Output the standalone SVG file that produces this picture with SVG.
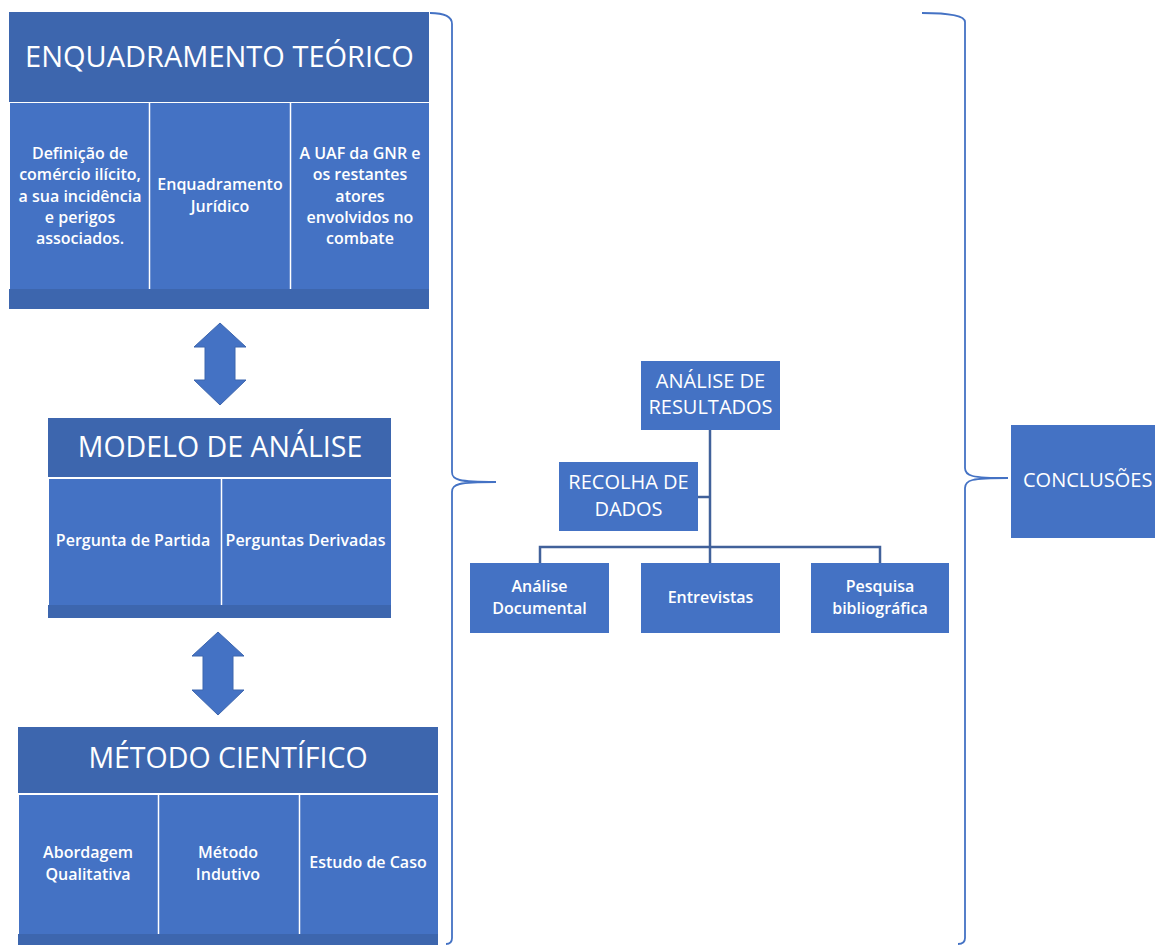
<svg xmlns="http://www.w3.org/2000/svg" width="1155" height="945" viewBox="0 0 1155 945">
<style>
.hdr{fill:#3D66AE}
.cell{fill:#4472C4}
.sep{stroke:#FFFFFF;stroke-width:1.5}
.ht{font-family:"Open Sans","Liberation Sans",sans-serif;fill:#FFFFFF;text-anchor:middle;font-weight:400}
.ct{font-family:"Open Sans","Liberation Sans",sans-serif;fill:#FFFFFF;text-anchor:middle;font-weight:600;font-size:16px}
.mt{font-family:"Open Sans","Liberation Sans",sans-serif;fill:#FFFFFF;text-anchor:middle;font-weight:400;font-size:20px}
.st{font-family:"Open Sans","Liberation Sans",sans-serif;fill:#FFFFFF;text-anchor:start;font-weight:400;font-size:20px}
.brace{fill:none;stroke:#4472C4;stroke-width:1.8}
.conn{fill:none;stroke:#41619A;stroke-width:2.5}
.arrow{fill:#4472C4;stroke:#3D66AE;stroke-width:1}
</style>
<rect width="1155" height="945" fill="#FFFFFF"/>

<g id="enquadramento">
<rect class="hdr" x="9" y="12" width="420" height="90"/>
<rect class="cell" x="10" y="103" width="419" height="186"/>
<line class="sep" x1="149.5" y1="103" x2="149.5" y2="289"/>
<line class="sep" x1="290.5" y1="103" x2="290.5" y2="289"/>
<rect class="hdr" x="9" y="289" width="420" height="20"/>
<text class="ht" x="219.5" y="66.5" font-size="29">ENQUADRAMENTO TEÓRICO</text>
<text class="ct" x="80" y="159">Definição de</text>
<text class="ct" x="80" y="180">comércio ilícito,</text>
<text class="ct" x="80" y="201.5">a sua incidência</text>
<text class="ct" x="80" y="223">e perigos</text>
<text class="ct" x="80" y="244">associados.</text>
<text class="ct" x="220" y="190">Enquadramento</text>
<text class="ct" x="220" y="212">Jurídico</text>
<text class="ct" x="360" y="159">A UAF da GNR e</text>
<text class="ct" x="360" y="180">os restantes</text>
<text class="ct" x="360" y="201.5">atores</text>
<text class="ct" x="360" y="223">envolvidos no</text>
<text class="ct" x="360" y="244">combate</text>
</g>

<g id="arrow1">
<path class="arrow" d="M220 323 L246 347 L235 347 L235 380 L246 380 L220 405 L194 380 L205 380 L205 347 L194 347 Z"/>
</g>

<g id="modelo">
<rect class="hdr" x="48" y="418" width="343" height="59"/>
<rect class="cell" x="49" y="479" width="342" height="126"/>
<line class="sep" x1="221.5" y1="479" x2="221.5" y2="605"/>
<rect class="hdr" x="48" y="605" width="343" height="13"/>
<text class="ht" x="220" y="457" font-size="28.5">MODELO DE ANÁLISE</text>
<text class="ct" x="133" y="545.5">Pergunta de Partida</text>
<text class="ct" x="305.5" y="545.5">Perguntas Derivadas</text>
</g>

<g id="arrow2">
<path class="arrow" d="M218 632 L244 656 L233 656 L233 690 L244 690 L218 715 L192 690 L203 690 L203 656 L192 656 Z"/>
</g>

<g id="metodo">
<rect class="hdr" x="18" y="727" width="420" height="66"/>
<rect class="cell" x="19" y="795" width="419" height="139"/>
<line class="sep" x1="158.5" y1="795" x2="158.5" y2="934"/>
<line class="sep" x1="299.5" y1="795" x2="299.5" y2="934"/>
<rect class="hdr" x="18" y="934" width="420" height="11"/>
<text class="ht" x="228" y="768" font-size="28.5">MÉTODO CIENTÍFICO</text>
<text class="ct" x="88" y="857.5">Abordagem</text>
<text class="ct" x="88" y="879.5">Qualitativa</text>
<text class="ct" x="228" y="857.5">Método</text>
<text class="ct" x="228" y="879.5">Indutivo</text>
<text class="ct" x="368" y="867.5">Estudo de Caso</text>
</g>

<g id="connectors">
<path class="brace" d="M430 13 Q452 13 452 24 L452 472 C452 480 458 482 496 482 C458 482 452 484 452 492 L452 938 Q452 944 446 944"/>
<path class="brace" d="M922 13 Q965 13 965 22 L965 468 C965 476 971 478 1008 478 C971 478 965 480 965 488 L965 938 Q965 944 958 944"/>
<path class="conn" d="M710 430 L710 563"/>
<path class="conn" d="M698 497 L710 497"/>
<path class="conn" d="M540 563 L540 547 L880 547 L880 563"/>
</g>

<g id="analise-resultados">
<rect class="cell" x="641" y="361" width="139" height="69"/>
<text class="mt" x="710.5" y="388">ANÁLISE DE</text>
<text class="mt" x="710.5" y="414">RESULTADOS</text>
</g>

<g id="recolha-dados">
<rect class="cell" x="559" y="462" width="139" height="69"/>
<text class="mt" x="628.5" y="489">RECOLHA DE</text>
<text class="mt" x="628.5" y="516">DADOS</text>
</g>

<g id="analise-documental">
<rect class="cell" x="470" y="563" width="139" height="70"/>
<text class="ct" x="539.5" y="592">Análise</text>
<text class="ct" x="539.5" y="613.5">Documental</text>
</g>

<g id="entrevistas">
<rect class="cell" x="641" y="563" width="139" height="70"/>
<text class="ct" x="710.5" y="602.5">Entrevistas</text>
</g>

<g id="pesquisa">
<rect class="cell" x="811" y="563" width="138" height="70"/>
<text class="ct" x="880" y="592">Pesquisa</text>
<text class="ct" x="880" y="613.5">bibliográfica</text>
</g>

<g id="conclusoes">
<rect class="cell" x="1011" y="425" width="150" height="113"/>
<text class="st" x="1023" y="487">CONCLUSÕES</text>
</g>
</svg>
